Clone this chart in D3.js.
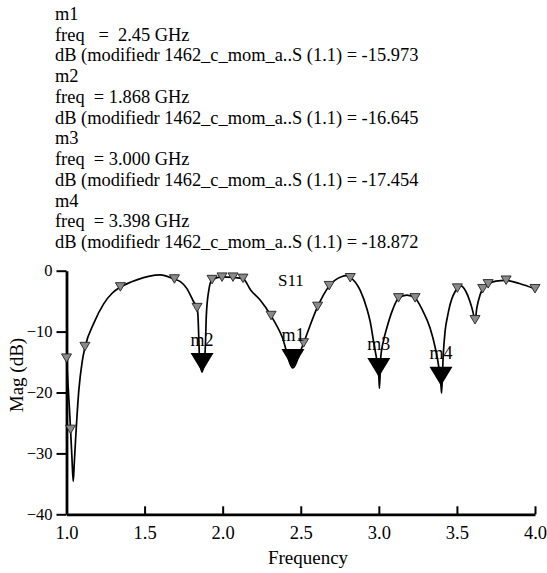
<!DOCTYPE html>
<html><head><meta charset="utf-8">
<script src="https://cdn.jsdelivr.net/npm/d3@7"></script>
<style>
body{margin:0;background:#fff}
svg{display:block}
text{font-family:"Liberation Serif","Times New Roman",serif;fill:#000}
</style>
</head><body>
<svg id="c" width="547" height="573"></svg>
<script>
// ---------- data ----------
const infoLines = [
  "m1",
  "freq   =  2.45 GHz",
  "dB (modifiedr 1462_c_mom_a..S (1.1) = -15.973",
  "m2",
  "freq  = 1.868 GHz",
  "dB (modifiedr 1462_c_mom_a..S (1.1) = -16.645",
  "m3",
  "freq  = 3.000 GHz",
  "dB (modifiedr 1462_c_mom_a..S (1.1) = -17.454",
  "m4",
  "freq  = 3.398 GHz",
  "dB (modifiedr 1462_c_mom_a..S (1.1) = -18.872"
];

const freq = [1.000,1.013,1.026,1.035,1.043,1.050,1.058,1.079,1.100,1.120,1.175,1.239,1.292,1.345,1.45,1.60,1.691,1.729,1.77,1.814,1.836,1.843,1.847,1.852,1.868,1.884,1.889,1.8955,1.910,1.932,1.996,2.066,2.130,2.18,2.24,2.310,2.38,2.45,2.497,2.518,2.608,2.682,2.76,2.79,2.817,2.88,2.923,2.945,2.97,2.987,3.000,3.004,3.013,3.030,3.051,3.09,3.126,3.18,3.232,3.28,3.328,3.36,3.385,3.398,3.402,3.412,3.424,3.440,3.456,3.503,3.525,3.555,3.584,3.603,3.616,3.627,3.648,3.665,3.700,3.75,3.815,3.90,4.000];
const magDb = [-14.4,-20.0,-26.1,-30.8,-34.6,-31.5,-27.8,-19.6,-15.0,-12.4,-8.6,-5.4,-3.7,-2.7,-1.5,-0.7,-1.4,-1.8,-2.9,-5.1,-6.1,-8.0,-11.0,-14.5,-16.645,-14.5,-12.5,-7.3,-3.4,-1.5,-1.0,-1.1,-1.3,-3.2,-4.8,-7.4,-10.8,-15.973,-13.3,-11.9,-5.9,-2.5,-1.0,-0.8,-1.1,-3.2,-6.2,-8.4,-12.2,-14.7,-17.454,-19.3,-14.0,-11.5,-9.4,-6.3,-4.5,-4.0,-4.5,-6.5,-9.4,-12.5,-16.0,-18.872,-20.1,-14.0,-10.0,-7.5,-5.6,-2.9,-2.5,-3.3,-5.1,-6.8,-8.3,-6.2,-4.0,-3.0,-2.2,-1.7,-1.6,-2.1,-3.0];

const symFreq = [1.000,1.026,1.118,1.345,1.691,1.836,1.932,1.996,2.066,2.130,2.310,2.518,2.608,2.682,2.817,3.126,3.232,3.503,3.616,3.665,3.700,3.815,4.000];
const symDb   = [-14.4,-26.1,-12.5,-2.7,-1.4,-6.1,-1.5,-1.1,-1.1,-1.3,-7.4,-11.9,-5.9,-2.5,-1.2,-4.5,-4.5,-2.9,-8.1,-3.0,-2.2,-1.6,-3.0];

const markerNames = ["m1","m2","m3","m4"];
const markerFreq  = [2.45,1.868,3.000,3.398];
const markerDb    = [-15.973,-16.645,-17.454,-18.872];

const xTicks = [1.0,1.5,2.0,2.5,3.0,3.5,4.0];
const yTicks = [0,-10,-20,-30,-40];
const traceName = "S11";
const xTitle = "Frequency";
const yTitle = "Mag (dB)";

// ---------- drawing ----------
const svg = d3.select("#c");
const x = d3.scaleLinear().domain([1,4]).range([66.5,535]);
const y = d3.scaleLinear().domain([-40,0]).range([514.3,270.7]);

// info text block
const info = svg.append("g");
infoLines.forEach((t,i)=>{
  info.append("text").attr("x",55).attr("y",20+i*20.73)
    .attr("font-size",18.4).style("white-space","pre").attr("xml:space","preserve").text(t);
});

// axes
const ax = svg.append("g").attr("transform","translate(0,514.3)")
  .call(d3.axisBottom(x).tickValues(xTicks).tickFormat(d3.format(".1f")).tickSizeInner(-8).tickSizeOuter(0));
ax.select(".domain").attr("stroke","#000").attr("stroke-width",2.8);
ax.selectAll(".tick line").attr("stroke","#000").attr("stroke-width",2);
ax.selectAll(".tick text").attr("font-size",18.5).attr("font-family","Liberation Serif").attr("y",24.5).attr("dy",0).attr("fill","#000");

const ay = svg.append("g").attr("transform","translate(66.5,0)")
  .call(d3.axisLeft(y).tickValues(yTicks).tickFormat(d3.format("d")).tickSizeInner(10).tickSizeOuter(0).tickPadding(4));
ay.select(".domain").attr("stroke","#000").attr("stroke-width",2.8);
ay.selectAll(".tick line").attr("stroke","#000").attr("stroke-width",2);
ay.selectAll(".tick text").attr("font-size",16.5).attr("font-family","Liberation Serif").attr("fill","#000");

// axis titles
svg.append("text").attr("x",308).attr("y",564).attr("text-anchor","middle").attr("font-size",19).text(xTitle);
svg.append("text").attr("transform","translate(23,375) rotate(-90)").attr("text-anchor","middle").attr("font-size",19).text(yTitle);

// trace
const pts = freq.map((f,i)=>[f,magDb[i]]);
svg.append("path").datum(pts)
  .attr("fill","none").attr("stroke","#000").attr("stroke-width",1.7)
  .attr("d", d3.line().x(d=>x(d[0])).y(d=>y(d[1])).curve(d3.curveMonotoneX));

// small gray symbols
const sym = symFreq.map((f,i)=>[f,symDb[i]]);
svg.append("g").selectAll("path").data(sym).join("path")
  .attr("transform",d=>`translate(${x(d[0])},${y(d[1])})`)
  .attr("d","M-5,-4.5 L5,-4.5 L0,4 Z")
  .attr("fill","#8a8a8a").attr("stroke","#222").attr("stroke-width",0.9);

// trace name
svg.append("text").attr("x",278).attr("y",286).attr("font-size",17).text(traceName);

// big markers
const mk = markerNames.map((n,i)=>({n, f:markerFreq[i], v:markerDb[i]}));
const mg = svg.append("g");
mg.selectAll("path").data(mk).join("path")
  .attr("transform",d=>`translate(${x(d.f)},${y(d.v)})`)
  .attr("d","M-11.5,-19 L11.5,-19 L0,0 Z").attr("fill","#000");
mg.selectAll("text").data(mk).join("text")
  .attr("x",d=>x(d.f)).attr("y",d=>y(d.v)-26.5)
  .attr("text-anchor","middle").attr("font-size",18).text(d=>d.n);
</script>
</body></html>
